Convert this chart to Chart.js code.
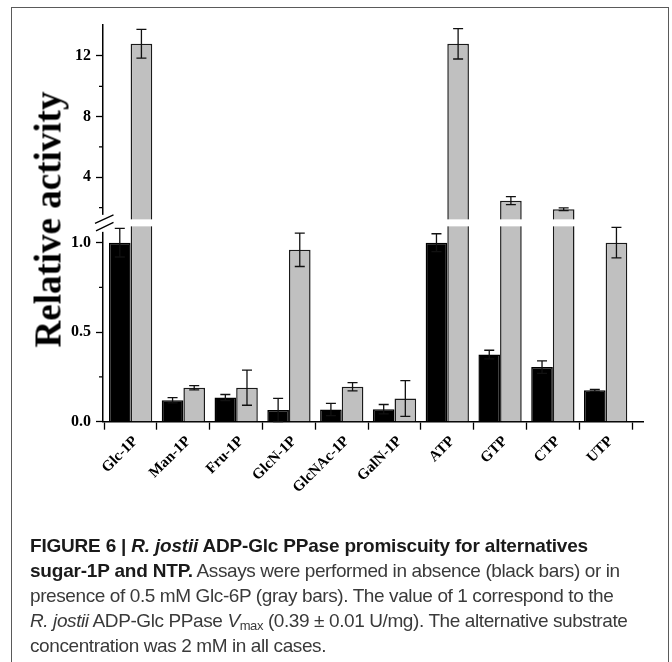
<!DOCTYPE html>
<html>
<head>
<meta charset="utf-8">
<script src="https://cdn.jsdelivr.net/npm/chart.js@4.4.1/dist/chart.umd.min.js"></script>
<style>
  html, body { margin: 0; padding: 0; background: #fff; width: 672px; height: 662px; overflow: hidden; }
  #wrap { position: relative; width: 672px; height: 662px; }
  #c { position: absolute; left: 0; top: 0; }
  #frame { position: absolute; left: 11px; top: 7px; width: 656px; height: 720px; border: 1.5px solid #5a5a5a; pointer-events: none; }
  #ytitle { position: absolute; left: -115px; top: 200.5px; width: 320px; height: 37px; line-height: 37px;
            text-align: center; font: bold 37px "Liberation Serif", "Times New Roman", serif; color: #000;
            transform: rotate(-90deg); transform-origin: 50% 50%; white-space: nowrap; }
  #caption { position: absolute; left: 30px; top: 533px; font-family: "Liberation Sans", Arial, sans-serif;
             font-size: 19px; letter-spacing: -0.4px; line-height: 25px; color: #3a3a3a; white-space: nowrap; }
  #caption b { color: #1a1a1a; letter-spacing: -0.2px; }
  #caption sub { font-size: 13px; vertical-align: -3px; line-height: 0; }
</style>
</head>
<body>
<div id="wrap">
  <canvas id="c" width="672" height="540"></canvas>
  <div id="ytitle">Relative activity</div>
  <div id="caption">
    <b>FIGURE 6 | <i>R. jostii</i> ADP-Glc PPase promiscuity for alternatives</b><br>
    <b>sugar-1P and NTP.</b> Assays were performed in absence (black bars) or in<br>
    presence of 0.5 mM Glc-6P (gray bars). The value of 1 correspond to the<br>
    <i>R. jostii</i> ADP-Glc PPase <i>V</i><sub>max</sub> (0.39 ± 0.01 U/mg). The alternative substrate<br>
    concentration was 2 mM in all cases.
  </div>
  <div id="frame"></div>
</div>
<script>
// ---- data ----
const CATEGORIES = ['Glc-1P', 'Man-1P', 'Fru-1P', 'GlcN-1P', 'GlcNAc-1P', 'GalN-1P', 'ATP', 'GTP', 'CTP', 'UTP'];
const BLACK_BARS = [1.0, 0.12, 0.135, 0.065, 0.068, 0.07, 1.0, 0.375, 0.305, 0.175];
const BLACK_ERR  = [0.08, 0.015, 0.017, 0.065, 0.034, 0.026, 0.05, 0.024, 0.035, 0.006];
const GRAY_BARS  = [12.8, 0.19, 0.19, 0.96, 0.195, 0.13, 12.8, 2.46, 1.89, 1.0];
const GRAY_ERR   = [0.95, 0.012, 0.098, 0.093, 0.023, 0.1, 1.0, 0.26, 0.09, 0.085];
const HIGH_TICKS = [4, 8, 12];
const HIGH_MINOR = [2, 6, 10];
const LOW_TICKS  = [0, 0.5, 1.0];
const LOW_MINOR  = [0.25, 0.75];
const LOW_MIN = 0, LOW_MAX = 1.108;     // lower segment of the broken axis
const HIGH_MIN = 0.963, HIGH_MAX = 14.04; // upper segment of the broken axis

const serif = '"Liberation Serif", "Times New Roman", serif';

const lowGray = [], highGray = [];
GRAY_BARS.forEach((v, i) => {
  if (v > LOW_MAX) {
    lowGray.push({ x: i, y: LOW_MAX + 0.012 });
    highGray.push({ x: i, y: [HIGH_MIN - 0.06, v] });
  } else {
    lowGray.push({ x: i, y: v });
  }
});

const barBase = { borderWidth: 1.5, categoryPercentage: 0.82, barPercentage: 1.0, xAxisID: 'x', inflateAmount: 0 };

const datasets = [
  Object.assign({}, barBase, {
    label: 'absence of Glc-6P', stack: 'black', yAxisID: 'yLow',
    data: BLACK_BARS.map((v, i) => ({ x: i, y: v })),
    backgroundColor: '#000', borderColor: '#000', borderSkipped: 'start',
    errVals: BLACK_BARS, errs: BLACK_ERR
  }),
  Object.assign({}, barBase, {
    label: 'presence of Glc-6P', stack: 'gray', yAxisID: 'yLow',
    data: lowGray,
    backgroundColor: '#c0c0c0', borderColor: '#1a1a1a', borderSkipped: 'start',
    errVals: GRAY_BARS, errs: GRAY_ERR, errFilter: v => v <= LOW_MAX
  }),
  Object.assign({}, barBase, {
    label: 'presence of Glc-6P (upper)', stack: 'gray', yAxisID: 'yHigh',
    data: highGray,
    backgroundColor: '#c0c0c0', borderColor: '#1a1a1a', borderSkipped: 'start',
    errVals: GRAY_BARS, errs: GRAY_ERR, errFilter: v => v > LOW_MAX
  })
];

const breakPlugin = {
  id: 'breakPlugin',
  afterDatasetsDraw(chart) {
    const ctx = chart.ctx;
    const yl = chart.scales.yLow, yh = chart.scales.yHigh;
    const area = chart.chartArea;
    const B = (yl.top + yh.bottom) / 2;
    const ax = yl.right;
    ctx.save();
    // white band across the bars
    ctx.fillStyle = '#fff';
    ctx.fillRect(ax + 2, B - 4, area.right - ax, 7);
    // gap in the axis line
    ctx.fillRect(ax - 3, B - 8.5, 6, 17);
    // break marks
    ctx.strokeStyle = '#000';
    ctx.lineWidth = 1.3;
    ctx.beginPath();
    ctx.moveTo(ax - 8, B); ctx.lineTo(ax + 10.5, B - 8.5);
    ctx.moveTo(ax - 7, B + 7.5); ctx.lineTo(ax + 10.5, B - 1);
    ctx.stroke();

    // error bars
    ctx.strokeStyle = '#111';
    ctx.lineWidth = 1.3;
    chart.data.datasets.forEach((ds, di) => {
      const meta = chart.getDatasetMeta(di);
      const ys = chart.scales[ds.yAxisID];
      meta.data.forEach((el, j) => {
        const idx = ds.data[j].x;
        const v = ds.errVals[idx], e = ds.errs[idx];
        if (ds.errFilter && !ds.errFilter(v)) return;
        const x = el.x;
        const y1 = ys.getPixelForValue(v + e), y2 = ys.getPixelForValue(v - e);
        ctx.beginPath();
        ctx.moveTo(x, y1); ctx.lineTo(x, y2);
        ctx.moveTo(x - 5, y1); ctx.lineTo(x + 5, y1);
        ctx.moveTo(x - 5, y2); ctx.lineTo(x + 5, y2);
        ctx.stroke();
      });
    });

    // minor ticks
    ctx.strokeStyle = '#000';
    ctx.lineWidth = 1.2;
    ctx.beginPath();
    HIGH_MINOR.forEach(v => { const y = yh.getPixelForValue(v); ctx.moveTo(ax - 4, y); ctx.lineTo(ax, y); });
    LOW_MINOR.forEach(v => { const y = yl.getPixelForValue(v); ctx.moveTo(ax - 4, y); ctx.lineTo(ax, y); });
    ctx.stroke();
    ctx.restore();
  }
};

const yCommon = {
  type: 'linear', position: 'left', stack: 'broken', stackWeight: 1, stacked: false,
  grid: { drawOnChartArea: false, drawTicks: true, tickLength: 7, tickColor: '#000', tickWidth: 1.3 },
  border: { display: true, color: '#000', width: 1.5 },
  afterFit: s => { s.width = 80; }
};

new Chart(document.getElementById('c'), {
  type: 'bar',
  data: { datasets },
  options: {
    responsive: false,
    animation: false,
    devicePixelRatio: 1,
    layout: { padding: { left: 23, right: 29, top: 25, bottom: 0 } },
    plugins: { legend: { display: false }, tooltip: { enabled: false } },
    scales: {
      x: {
        type: 'linear', position: 'bottom', offset: false,
        min: -0.523, max: 9.708,
        grid: { drawOnChartArea: false, drawTicks: true, tickLength: 8, tickColor: '#000', tickWidth: 1.3 },
        border: { display: true, color: '#000', width: 1.5 },
        afterBuildTicks: s => { s.ticks = CATEGORIES.map((c, i) => ({ value: i })); },
        afterFit: s => { s.height = 118.3; },
        ticks: {
          autoSkip: false, minRotation: 45, maxRotation: 45, padding: 3, labelOffset: 5,
          color: '#000', font: { family: serif, size: 15, weight: 'bold' },
          callback: v => CATEGORIES[v]
        }
      },
      yHigh: Object.assign({}, yCommon, {
        weight: 1, min: HIGH_MIN, max: HIGH_MAX,
        afterBuildTicks: s => { s.ticks = HIGH_TICKS.map(v => ({ value: v })); },
        ticks: { color: '#000', padding: 5, font: { family: serif, size: 16, weight: 'bold' }, callback: v => String(v) }
      }),
      yLow: Object.assign({}, yCommon, {
        weight: 0, min: LOW_MIN, max: LOW_MAX,
        afterBuildTicks: s => { s.ticks = LOW_TICKS.map(v => ({ value: v })); },
        ticks: { color: '#000', padding: 5, font: { family: serif, size: 16, weight: 'bold' }, callback: v => Number(v).toFixed(1) }
      })
    }
  },
  plugins: [breakPlugin]
});
</script>
</body>
</html>
